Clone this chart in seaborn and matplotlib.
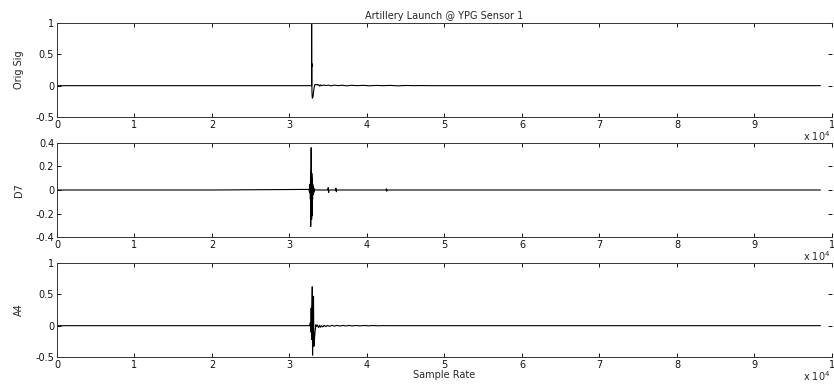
"""
plot.py

Artillery launch signal recorded at YPG sensor 1: the original signal and two
wavelet components (D7 and A4), stacked in MATLAB style.
"""
import numpy as np
import pandas as pd
import seaborn as sns
import matplotlib.pyplot as plt

# Orig Sig: flat, spike at ~3.29e4, decaying ripple to 5e4
orig_x = [0, 32850, 32860, 32870, 32880, 32890, 32900, 32950, 33000, 33050, 33100,
          33200, 33300, 33450, 33600, 33700, 33800, 33900, 34000, 34200, 34400,
          34700, 35000, 35400, 35800, 36300, 36800, 37400, 38000, 38700, 39500,
          40300, 41200, 42000, 43000, 44000, 45000, 46000, 47000, 48000, 50000, 98500]
orig_y = [0, 0, 1.1, 0.35, 0.3, 0.35, -0.1, -0.2, -0.19, -0.17, -0.1,
          -0.02, 0.02, 0.015, 0.02, 0.005, 0.015, -0.01, 0.012, 0.0, 0.01,
          0.002, 0.008, -0.002, 0.008, 0.0, 0.007, -0.003, 0.006, 0.0, 0.005,
          -0.002, 0.004, 0.0, 0.004, -0.003, 0.003, 0.0, 0.002, 0.0, 0.0, 0.0]

# D7: detail component, burst around 3.28e4 with a few later blips
d7_x = [0, 20000, 32500, 32600, 32650, 32700, 32720, 32740, 32760, 32780, 32800,
        32820, 32840, 32860, 32880, 32900, 32920, 32940, 32960, 32980, 33000,
        33050, 33100, 33150, 33200, 33300, 34950, 35000, 35050, 35100, 35950,
        36000, 36050, 36100, 42450, 42500, 42550, 42600, 98500]
d7_y = [0, 0, 0.005, -0.02, 0.05, -0.08, 0.12, -0.31, 0.16, -0.2, 0.36,
        -0.25, 0.15, -0.25, 0.14, -0.22, 0.1, -0.15, 0.08, -0.08, 0.05,
        -0.04, 0.03, -0.02, 0.01, 0.0, 0.0, 0.02, -0.02, 0.0, 0.0,
        0.015, -0.015, 0.0, 0.0, 0.01, -0.01, 0.0, 0.0]

# A4: approximation component, burst around 3.29e4 then slow ripple
a4_x = [0, 32600, 32700, 32750, 32800, 32850, 32900, 32940, 32980, 33020, 33060,
        33100, 33150, 33200, 33300, 33400, 33500, 33600, 33750, 33900, 34000,
        34150, 34300, 34500, 34700, 34900, 35200, 35500, 35800, 36100, 36500,
        36900, 37300, 37700, 38100, 38600, 39100, 39600, 40200, 40800, 41500,
        42000, 42500, 98500]
a4_y = [0, 0, 0.05, -0.1, 0.28, -0.22, 0.25, 0.62, -0.47, 0.3, -0.2,
        0.47, -0.33, -0.25, -0.1, 0.015, -0.01, 0.01, -0.03, 0.005, -0.025,
        0.0, -0.02, 0.005, -0.015, 0.004, -0.01, 0.006, -0.008, 0.005, -0.006,
        0.004, -0.005, 0.004, -0.004, 0.003, -0.003, 0.003, -0.002, 0.002, -0.002,
        0.001, 0.0, 0.0]

panels = [
    ("Orig Sig", orig_x, orig_y, (-0.5, 1), [-0.5, 0, 0.5, 1], ["-0.5", "0", "0.5", "1"]),
    ("D7", d7_x, d7_y, (-0.4, 0.4), [-0.4, -0.2, 0, 0.2, 0.4], ["-0.4", "-0.2", "0", "0.2", "0.4"]),
    ("A4", a4_x, a4_y, (-0.5, 1), [-0.5, 0, 0.5, 1], ["-0.5", "0", "0.5", "1"]),
]

x_ticks = [i * 10000 for i in range(11)]
x_ticklabels = [str(i) for i in range(10)] + ["1"]


def main() -> None:
    sns.set_style("ticks")
    plt.rcParams['font.family'] = ['DejaVu Sans']

    fig = plt.figure(figsize=(8.34, 3.85), dpi=100)
    bottoms = [0.6961, 0.3844, 0.0727]
    height = 0.2442
    left, width = 0.0683, 0.9293

    for (name, xs, ys, ylim, yt, ytl), bot in zip(panels, bottoms):
        ax = fig.add_axes([left, bot, width, height])
        data = pd.DataFrame({'x': xs, 'y': ys})
        sns.lineplot(data=data, x='x', y='y', ax=ax, color='black',
                     linewidth=0.8, estimator=None, sort=False)
        ax.set_xlim(0, 100000)
        ax.set_ylim(*ylim)
        ax.set_xticks(x_ticks)
        ax.set_xticklabels(x_ticklabels)
        ax.set_yticks(yt)
        ax.set_yticklabels(ytl)
        ax.tick_params(direction='in', length=3, width=0.7, labelsize=7,
                       top=True, right=True, colors='#111111', pad=2)
        for side in ['left', 'bottom', 'top']:
            ax.spines[side].set_linewidth(0.7)
            ax.spines[side].set_color('#333333')
        ax.spines['right'].set_visible(False)
        ax.set_xlabel('')
        ax.set_ylabel(name, fontsize=7)
        ax.yaxis.set_label_coords(-0.043, 0.5)
        # MATLAB-style exponent under the right end of the x axis
        ax.text(0.9985, -0.205, r'x 10$^4$', transform=ax.transAxes,
                fontsize=7, ha='right', va='center')
        if name == "Orig Sig":
            ax.set_title('Artillery Launch @ YPG Sensor 1', fontsize=7, pad=3)
        if name == "A4":
            ax.set_xlabel('Sample Rate', fontsize=7, labelpad=0)

    fig.savefig("out.png", dpi=100)


if __name__ == "__main__":
    main()
